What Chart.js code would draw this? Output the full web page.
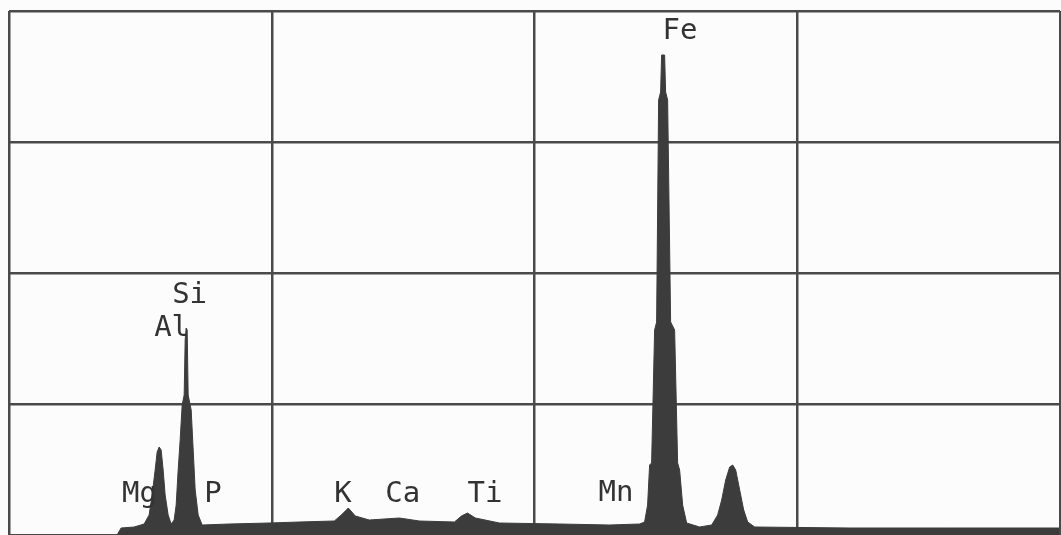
<!DOCTYPE html>
<html>
<head>
<meta charset="utf-8">
<script src="https://cdn.jsdelivr.net/npm/chart.js@4.4.1/dist/chart.umd.min.js"></script>
<style>
  html, body { margin: 0; padding: 0; background: #fcfcfc; }
  #wrap { width: 1061px; height: 535px; position: relative; }
</style>
</head>
<body>
<div id="wrap"><canvas id="spectrum"></canvas></div>
<script>
// EDS spectrum, x = channel, y = counts
const channels = [108, 112, 125, 135, 140, 143, 146, 148, 150, 152, 154, 156, 159, 162,
  165, 167, 169, 171, 173, 175, 176, 177, 178, 179, 182, 184, 186, 189, 193,
  220, 260, 290, 325, 332, 339, 346, 360, 390, 410, 445, 452, 458, 466, 490,
  550, 600, 630, 635, 638, 640, 642, 645, 647, 649, 651, 652, 655, 656, 658,
  661, 665, 668, 670, 673, 677, 690, 702, 708, 712, 716, 720, 723,
  726, 730, 734, 738, 745, 840, 940, 1049];
const counts = [0, 7, 8, 11, 20, 40, 65, 83, 88, 85, 65, 40, 20, 11,
  15, 30, 65, 95, 130, 140, 195, 207, 205, 140, 125, 85, 45, 20, 10,
  11, 12, 13, 14, 20, 27, 19, 15, 17, 14, 13, 19, 22, 17, 12,
  11, 10, 11, 13, 30, 70, 72, 205, 213, 435, 443, 480, 480, 443, 435,
  213, 205, 72, 65, 30, 12, 8, 10, 20, 35, 55, 68, 70,
  65, 45, 25, 13, 8, 7, 7, 7];

// element labels: name, channel of left edge, count level of baseline
const elementNames = ["Fe", "Si", "Al", "Mg", "P", "K", "Ca", "Ti", "Mn"];
const elementX = [653, 163, 145, 113, 195, 325, 376, 458, 589];
const elementY = [496, 232, 199, 33, 33, 33, 33, 33, 34];

const xMax = 1050;
const yMax = 524;

const points = channels.map((c, i) => ({ x: c, y: counts[i] }));

const labelPlugin = {
  id: "elementLabels",
  afterDatasetsDraw(chart) {
    const ctx = chart.ctx;
    const xs = chart.scales.x;
    const ys = chart.scales.y;
    ctx.save();
    ctx.font = '29px "DejaVu Sans Mono"';
    ctx.fillStyle = "#333";
    ctx.textAlign = "left";
    ctx.textBaseline = "alphabetic";
    elementNames.forEach((name, i) => {
      ctx.fillText(name, xs.getPixelForValue(elementX[i]), ys.getPixelForValue(elementY[i]));
    });
    ctx.restore();
  },
};

new Chart(document.getElementById("spectrum").getContext("2d"), {
  type: "line",
  data: {
    datasets: [
      {
        data: points,
        fill: "origin",
        backgroundColor: "#3c3c3c",
        borderColor: "#3c3c3c",
        borderWidth: 1,
        pointRadius: 0,
        tension: 0,
      },
    ],
  },
  options: {
    responsive: true,
    maintainAspectRatio: false,
    animation: false,
    layout: { padding: { left: 9, top: 11, right: 1, bottom: 0 } },
    plugins: { legend: { display: false }, tooltip: { enabled: false } },
    scales: {
      x: {
        type: "linear",
        min: 0,
        max: xMax,
        ticks: { display: false, stepSize: xMax / 4 },
        grid: { color: "#4a4a4a", lineWidth: 2.5, drawTicks: false },
        border: { display: false },
      },
      y: {
        min: 0,
        max: yMax,
        ticks: { display: false, stepSize: yMax / 4 },
        grid: { color: "#4a4a4a", lineWidth: 2.5, drawTicks: false },
        border: { display: false },
      },
    },
  },
  plugins: [labelPlugin],
});
</script>
</body>
</html>
